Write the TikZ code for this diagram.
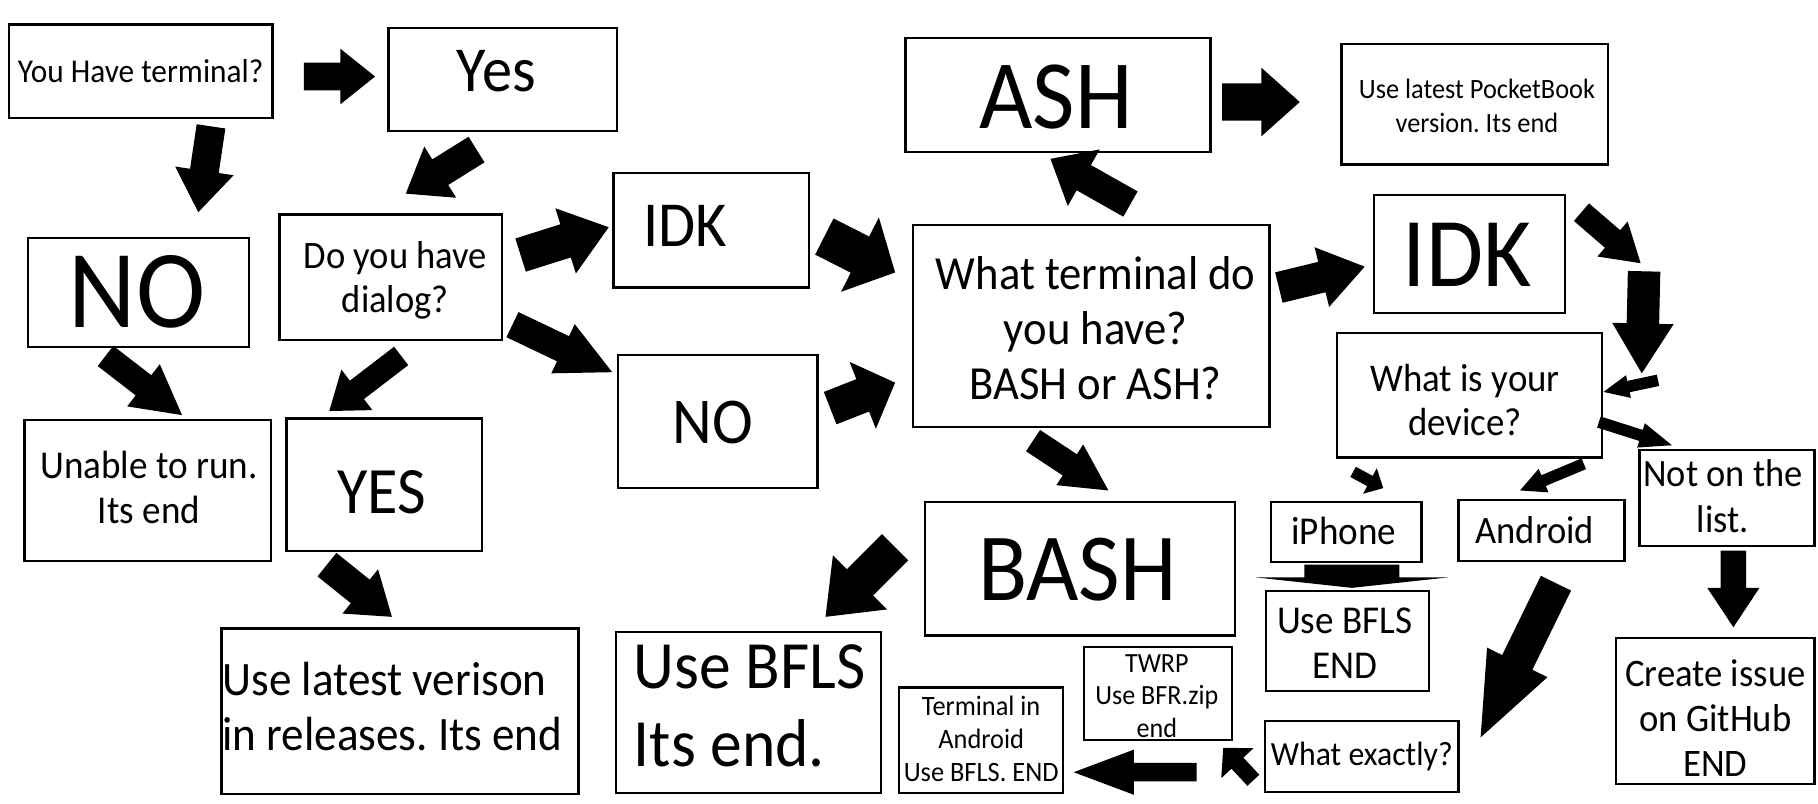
\documentclass[tikz,border=0pt]{standalone}
\usepackage{fontspec}
\setmainfont[FakeStretch=0.94]{Carlito}
\usetikzlibrary{calc}
\frenchspacing
% font size (scaled to compensate the narrowing), leading
\newcommand\fz[2]{\pgfmathsetmacro\fzsize{#1*1.064}\fontsize{\fzsize pt}{#2pt}\selectfont}
% #1 tail, #2 tip, #3 half shaft width, #4 half head width, #5 head length
\newcommand\blockarrow[5]{%
  \coordinate (hb) at ($(#2)!#5pt!(#1)$);
  \fill[black] ($(#1)!#3pt!90:(#2)$) -- ($(hb)!#3pt!90:(#2)$) -- ($(hb)!#4pt!90:(#2)$) -- (#2)
     -- ($(hb)!#4pt!-90:(#2)$) -- ($(hb)!#3pt!-90:(#2)$) -- ($(#1)!#3pt!-90:(#2)$) -- cycle;
}
\begin{document}
\begin{tikzpicture}[x=1pt,y=-1pt,
  box/.style={draw, line width=2pt, inner sep=0pt},
  txt/.style={align=center, inner sep=0pt}]
\useasboundingbox (0,0) rectangle (1568,693);
\fill[white] (0,0) rectangle (1568,693);

% ---------- boxes ----------
\node[box, minimum width=227.5pt, minimum height=81pt,
  label={[txt,font=\fz{27}{33}]center:You Have terminal?}] (q1) at (121.25,61.5) {};
\node[box, minimum width=197pt, minimum height=89pt,
  label={[txt,font=\fz{52}{63},xshift=-5.5pt,yshift=6.7pt]center:Yes}] (yes) at (433.5,68.5) {};
\node[box, minimum width=191pt, minimum height=94pt,
  label={[txt,font=\fz{90}{110},xshift=-1.3pt]center:NO}] (noL) at (119.5,252) {};
\node[box, minimum width=192pt, minimum height=108pt,
  label={[txt,font=\fz{31.5}{38},xshift=4pt,yshift=-3pt]center:{Do you have\\dialog?}}] (dia) at (337,239) {};
\node[box, minimum width=169pt, minimum height=99pt,
  label={[txt,font=\fz{52}{63},xshift=-22.5pt,yshift=3.7pt]center:IDK}] (idkL) at (613.5,198.5) {};
\node[box, minimum width=172pt, minimum height=115pt,
  label={[txt,font=\fz{53}{64},xshift=-4.2pt,yshift=-1pt]center:NO}] (noM) at (619,363.5) {};
\node[box, minimum width=213pt, minimum height=122pt,
  label={[txt,font=\fz{32}{39},xshift=1pt,yshift=2.5pt]center:{Unable to run.\\Its end}}] (unab) at (127.5,423) {};
\node[box, minimum width=169pt, minimum height=114pt,
  label={[txt,font=\fz{53.7}{65},xshift=-2pt,yshift=-6.8pt]center:YES}] (yesU) at (331.5,418) {};
\node[box, minimum width=308pt, minimum height=143pt,
  label={[txt,align=left,font=\fz{38.9}{47.4},xshift=-6.5pt,yshift=4pt]center:{Use latest verison\\in releases. Its end}}] (rel) at (345,613.5) {};
\node[box, minimum width=229pt, minimum height=139pt,
  label={[txt,align=left,font=\fz{54.8}{67},xshift=1pt,yshift=5.7pt]center:{Use BFLS\\Its end.}}] (bfls) at (645.5,614.5) {};
\node[box, minimum width=263pt, minimum height=98.5pt,
  label={[txt,font=\fz{79.5}{96},xshift=-1.8pt,yshift=-1.6pt]center:ASH}] (ash) at (912.5,81.75) {};
\node[box, minimum width=230pt, minimum height=104pt,
  label={[txt,font=\fz{22.7}{28.6},xshift=1.8pt,yshift=-1.3pt]center:{Use latest PocketBook\\version. Its end}}] (pock) at (1272,90) {};
\node[box, minimum width=307.5pt, minimum height=174pt,
  label={[txt,font=\fz{38.5}{47.3},xshift=3.7pt,yshift=-2pt]center:{What terminal do\\you have?\\BASH or ASH?}}] (term) at (941.25,281) {};
\node[box, minimum width=165pt, minimum height=102pt,
  label={[txt,font=\fz{80}{97},xshift=-2pt,yshift=-1pt]center:IDK}] (idkR) at (1267.5,219) {};
\node[box, minimum width=228.5pt, minimum height=107.5pt,
  label={[txt,font=\fz{31.8}{38.6},xshift=-3.7pt,yshift=-4.2pt]center:{What is your\\device?}}] (dev) at (1267.25,340.75) {};
\node[box, minimum width=267pt, minimum height=115pt,
  label={[txt,font=\fz{78}{95},xshift=-2.3pt,yshift=-1.2pt]center:BASH}] (bash) at (931.5,490.5) {};
\node[box, minimum width=130pt, minimum height=51.5pt,
  label={[txt,font=\fz{32}{39},xshift=-2pt,yshift=1pt]center:iPhone}] (iph) at (1161,458.75) {};
\node[box, minimum width=143pt, minimum height=53pt,
  label={[txt,font=\fz{31.5}{38},xshift=-5.7pt]center:Android}] (andr) at (1329.5,457.5) {};
\node[box, minimum width=151pt, minimum height=83pt,
  label={[txt,font=\fz{31.4}{39},xshift=-3.5pt,yshift=1.5pt]center:{Not on the\\list.}}] (notl) at (1489.5,429.5) {};
\node[box, minimum width=140.5pt, minimum height=86.5pt,
  label={[txt,font=\fz{32}{38.9},xshift=-2.5pt,yshift=-2.3pt]center:{Use BFLS\\END}}] (ubf) at (1162.25,552.75) {};
\node[box, minimum width=127.5pt, minimum height=80pt,
  label={[txt,font=\fz{22.5}{28},xshift=-1pt,yshift=-2.3pt]center:{TWRP\\Use BFR.zip\\end}}] (twrp) at (998.75,598) {};
\node[box, minimum width=141.5pt, minimum height=91pt,
  label={[txt,font=\fz{22.75}{28.5},yshift=1pt]center:{Terminal in\\Android\\Use BFLS. END}}] (tia) at (846.25,638.5) {};
\node[box, minimum width=167pt, minimum height=61.2pt,
  label={[txt,font=\fz{27.4}{33}]center:What exactly?}] (wex) at (1174.5,652.2) {};
\node[box, minimum width=171pt, minimum height=126pt,
  label={[txt,font=\fz{31.6}{38.9},yshift=-6.5pt]center:{Create issue\\on GitHub\\END}}] (gh) at (1479.5,613) {};

% ---------- arrow end points ----------
\coordinate (a1t) at (262,66);     \coordinate (a1h) at (323.5,66);
\coordinate (a2t) at (182,109);    \coordinate (a2h) at (171,183);
\coordinate (a3t) at (411,129);    \coordinate (a3h) at (350,167);
\coordinate (a4t) at (449,220);    \coordinate (a4h) at (525,196);
\coordinate (a5t) at (442,280);    \coordinate (a5h) at (528,321);
\coordinate (a6t) at (711,204);    \coordinate (a6h) at (772,235);
\coordinate (a7t) at (716,352);    \coordinate (a7h) at (772,330);
\coordinate (a8t) at (975,176);    \coordinate (a8h) at (906,137);
\coordinate (a9t) at (1054,88);    \coordinate (a9h) at (1121,88);
\coordinate (a10t) at (1103,248);  \coordinate (a10h) at (1177,230);
\coordinate (a11t) at (1364,183);  \coordinate (a11h) at (1415,227);
\coordinate (a12t) at (1418,234);  \coordinate (a12h) at (1416,322);
\coordinate (a13t) at (1430,328);  \coordinate (a13h) at (1383,338);
\coordinate (a14t) at (1379,364);  \coordinate (a14h) at (1442,384);
\coordinate (a15t) at (1167,407);  \coordinate (a15h) at (1193,421);
\coordinate (a16t) at (1366,400);  \coordinate (a16h) at (1311,423);
\coordinate (a17t) at (1166,487);  \coordinate (a17h) at (1166,507);
\coordinate (a18t) at (891,380);   \coordinate (a18h) at (956,423);
\coordinate (a19t) at (772,472);   \coordinate (a19h) at (712,532);
\coordinate (a20t) at (282,487);   \coordinate (a20h) at (338,532);
\coordinate (a21t) at (91,307);    \coordinate (a21h) at (157,358);
\coordinate (a22t) at (346,307);   \coordinate (a22h) at (284,354.5);
\coordinate (a23t) at (1342,503);  \coordinate (a23h) at (1277,636);
\coordinate (a24t) at (1495,475);  \coordinate (a24h) at (1495,541);
\coordinate (a25t) at (1081,673);  \coordinate (a25h) at (1055,645);
\coordinate (a26t) at (1032,666);  \coordinate (a26h) at (926,666);

% ---------- block arrows ----------
\blockarrow{a1t}{a1h}{12}{24}{30}
\blockarrow{a2t}{a2h}{12.5}{25.5}{36}
\blockarrow{a3t}{a3h}{13}{26}{35}
\blockarrow{a4t}{a4h}{15}{29.5}{39}
\blockarrow{a5t}{a5h}{12}{23.5}{47}
\blockarrow{a6t}{a6h}{17.5}{36}{34}
\blockarrow{a7t}{a7h}{15}{31}{30}
\blockarrow{a8t}{a8h}{12.5}{28}{33}
\blockarrow{a9t}{a9h}{16}{29.5}{33}
\blockarrow{a10t}{a10h}{13.5}{26.5}{38}
\blockarrow{a11t}{a11h}{10}{20}{32}
\blockarrow{a12t}{a12h}{14}{26.5}{43}
\blockarrow{a13t}{a13h}{5}{10}{22}
\blockarrow{a14t}{a14h}{5}{11}{28}
\blockarrow{a15t}{a15h}{5}{12.5}{13}
\blockarrow{a16t}{a16h}{5}{11}{22}
\blockarrow{a17t}{a17h}{41}{83}{9}
\blockarrow{a18t}{a18h}{11}{21}{40}
\blockarrow{a19t}{a19h}{16}{33}{42}
\blockarrow{a20t}{a20h}{13}{24.5}{35}
\blockarrow{a21t}{a21h}{11}{23}{42}
\blockarrow{a22t}{a22h}{10}{22}{30}
\blockarrow{a23t}{a23h}{14.5}{29}{72}
\blockarrow{a24t}{a24h}{11}{22.5}{34}
\blockarrow{a25t}{a25h}{7}{19}{18}
\blockarrow{a26t}{a26h}{8}{19.5}{52}
\end{tikzpicture}
\end{document}
